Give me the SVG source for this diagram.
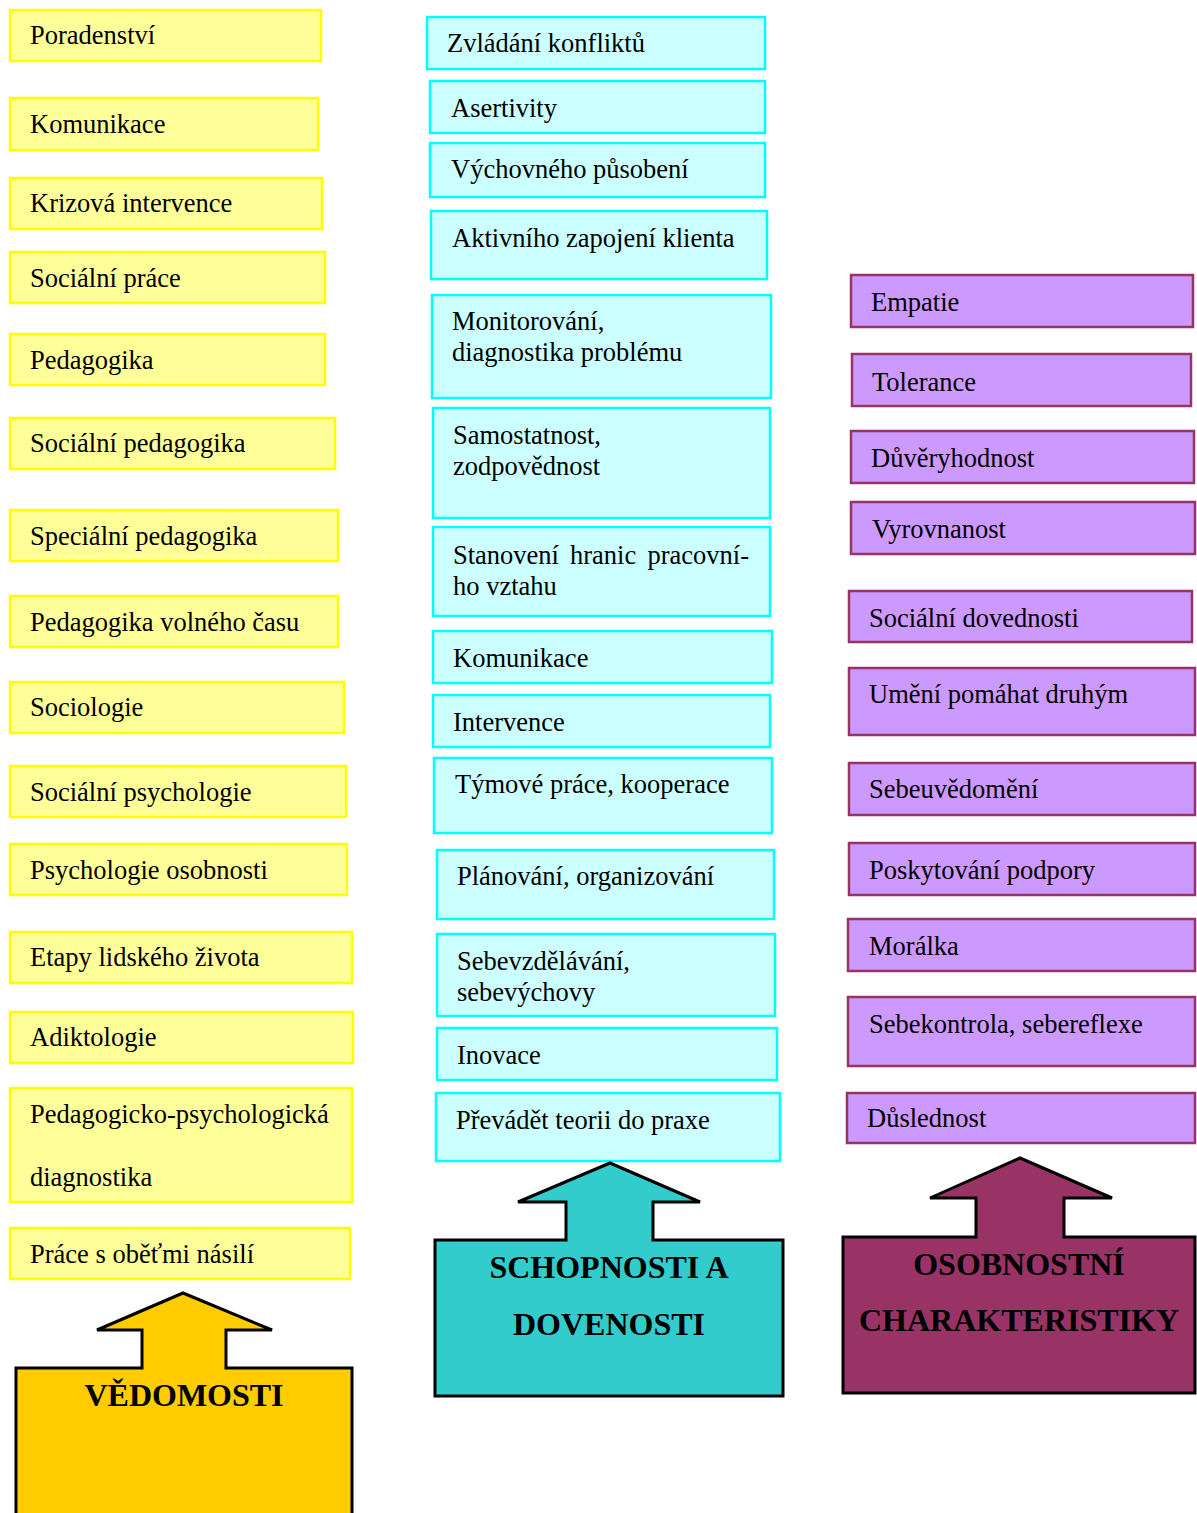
<svg xmlns="http://www.w3.org/2000/svg" width="1197" height="1513" viewBox="0 0 1197 1513">
  <style>
    text { font-family: "Liberation Serif", "Times New Roman", serif; font-size: 26.5px; fill: #000; }
    .k { fill: #FFFF99; stroke: #FFFF00; stroke-width: 2.5; }
    .s { fill: #CCFFFF; stroke: #00FFFF; stroke-width: 2.5; }
    .o { fill: #CC99FF; stroke: #993366; stroke-width: 2.5; }
    .arrow { stroke: #000; stroke-width: 3; stroke-linejoin: miter; }
    .title { font-weight: bold; font-size: 32px; text-anchor: middle; }
  </style>
  <rect width="1197" height="1513" fill="#fff"/>

  <!-- Knowledge column (yellow) -->
  <g id="knowledge">
    <g id="k1"><rect class="k" x="10" y="10" width="311" height="51"/><text x="30" y="44">Poradenství</text></g>
    <g id="k2"><rect class="k" x="10" y="98" width="308" height="52"/><text x="30" y="133">Komunikace</text></g>
    <g id="k3"><rect class="k" x="10" y="178" width="312" height="51"/><text x="30" y="212">Krizová intervence</text></g>
    <g id="k4"><rect class="k" x="10" y="252" width="315" height="51"/><text x="30" y="287">Sociální práce</text></g>
    <g id="k5"><rect class="k" x="10" y="334" width="315" height="51"/><text x="30" y="369">Pedagogika</text></g>
    <g id="k6"><rect class="k" x="10" y="418" width="325" height="51"/><text x="30" y="452">Sociální pedagogika</text></g>
    <g id="k7"><rect class="k" x="10" y="510" width="328" height="51"/><text x="30" y="545">Speciální pedagogika</text></g>
    <g id="k8"><rect class="k" x="10" y="596" width="328" height="51"/><text x="30" y="631">Pedagogika volného času</text></g>
    <g id="k9"><rect class="k" x="10" y="682" width="334" height="51"/><text x="30" y="716">Sociologie</text></g>
    <g id="k10"><rect class="k" x="10" y="766" width="336" height="51"/><text x="30" y="801">Sociální psychologie</text></g>
    <g id="k11"><rect class="k" x="10" y="844" width="337" height="51"/><text x="30" y="879">Psychologie osobnosti</text></g>
    <g id="k12"><rect class="k" x="10" y="932" width="342" height="51"/><text x="30" y="966">Etapy lidského života</text></g>
    <g id="k13"><rect class="k" x="10" y="1012" width="343" height="51"/><text x="30" y="1046">Adiktologie</text></g>
    <g id="k14"><rect class="k" x="10" y="1088" width="342" height="114"/><text x="30" y="1123">Pedagogicko-psychologická</text><text x="30" y="1186">diagnostika</text></g>
    <g id="k15"><rect class="k" x="10" y="1228" width="340" height="51"/><text x="30" y="1263">Práce s oběťmi násilí</text></g>
  </g>

  <!-- Skills column (cyan) -->
  <g id="skills">
    <g id="s1"><rect class="s" x="427" y="17" width="338" height="52"/><text x="447" y="52">Zvládání konfliktů</text></g>
    <g id="s2"><rect class="s" x="430" y="81" width="335" height="52"/><text x="451" y="117">Asertivity</text></g>
    <g id="s3"><rect class="s" x="430" y="143" width="335" height="54"/><text x="451" y="178">Výchovného působení</text></g>
    <g id="s4"><rect class="s" x="431" y="211" width="336" height="68"/><text x="452" y="247">Aktivního zapojení klienta</text></g>
    <g id="s5"><rect class="s" x="432" y="295" width="339" height="103"/><text x="452" y="330">Monitorování,</text><text x="452" y="361">diagnostika problému</text></g>
    <g id="s6"><rect class="s" x="433" y="408" width="337" height="110"/><text x="453" y="444">Samostatnost,</text><text x="453" y="475">zodpovědnost</text></g>
    <g id="s7"><rect class="s" x="433" y="527" width="337" height="89"/>
      <text x="453" y="564">Stanovení</text><text x="570" y="564">hranic</text><text x="749" y="564" text-anchor="end">pracovní-</text>
      <text x="453" y="595">ho vztahu</text></g>
    <g id="s8"><rect class="s" x="433" y="631" width="339" height="52"/><text x="453" y="667">Komunikace</text></g>
    <g id="s9"><rect class="s" x="433" y="695" width="337" height="52"/><text x="453" y="731">Intervence</text></g>
    <g id="s10"><rect class="s" x="434" y="758" width="338" height="75"/><text x="455" y="793">Týmové práce, kooperace</text></g>
    <g id="s11"><rect class="s" x="437" y="850" width="337" height="69"/><text x="457" y="885">Plánování, organizování</text></g>
    <g id="s12"><rect class="s" x="437" y="934" width="338" height="82"/><text x="457" y="970">Sebevzdělávání,</text><text x="457" y="1001">sebevýchovy</text></g>
    <g id="s13"><rect class="s" x="437" y="1028" width="340" height="52"/><text x="457" y="1064">Inovace</text></g>
    <g id="s14"><rect class="s" x="436" y="1093" width="344" height="68"/><text x="456" y="1129">Převádět teorii do praxe</text></g>
  </g>

  <!-- Personal traits column (violet) -->
  <g id="traits">
    <g id="o1"><rect class="o" x="851" y="275" width="342" height="52"/><text x="871" y="311">Empatie</text></g>
    <g id="o2"><rect class="o" x="852" y="354" width="339" height="52"/><text x="872" y="391">Tolerance</text></g>
    <g id="o3"><rect class="o" x="851" y="431" width="343" height="52"/><text x="871" y="467">Důvěryhodnost</text></g>
    <g id="o4"><rect class="o" x="851" y="502" width="344" height="52"/><text x="872" y="538">Vyrovnanost</text></g>
    <g id="o5"><rect class="o" x="849" y="591" width="343" height="51"/><text x="869" y="627">Sociální dovednosti</text></g>
    <g id="o6"><rect class="o" x="849" y="668" width="346" height="67"/><text x="869" y="703">Umění pomáhat druhým</text></g>
    <g id="o7"><rect class="o" x="849" y="763" width="346" height="52"/><text x="869" y="798">Sebeuvědomění</text></g>
    <g id="o8"><rect class="o" x="849" y="843" width="346" height="52"/><text x="869" y="879">Poskytování podpory</text></g>
    <g id="o9"><rect class="o" x="848" y="919" width="347" height="52"/><text x="869" y="955">Morálka</text></g>
    <g id="o10"><rect class="o" x="848" y="997" width="347" height="69"/><text x="869" y="1033">Sebekontrola, sebereflexe</text></g>
    <g id="o11"><rect class="o" x="847" y="1093" width="348" height="50"/><text x="867" y="1127">Důslednost</text></g>
  </g>

  <!-- Category blocks with upward arrows -->
  <g id="arrows">
    <g id="vedomosti">
      <polygon class="arrow" fill="#FFCC00" points="183,1293 272,1330 226,1330 226,1368 352,1368 352,1520 16,1520 16,1368 142,1368 142,1330 97,1330"/>
      <text class="title" x="184" y="1406">VĚDOMOSTI</text>
    </g>
    <g id="schopnosti">
      <polygon class="arrow" fill="#33CCCC" points="610,1163 700,1202 653,1202 653,1240 783,1240 783,1396 435,1396 435,1240 566,1240 566,1202 518,1202"/>
      <text class="title" x="609" y="1278">SCHOPNOSTI A</text>
      <text class="title" x="609" y="1335">DOVENOSTI</text>
    </g>
    <g id="osobnostni">
      <polygon class="arrow" fill="#993366" points="1020,1158 1112,1198 1064,1198 1064,1237 1195,1237 1195,1393 843,1393 843,1237 976,1237 976,1198 930,1198"/>
      <text class="title" x="1019" y="1275">OSOBNOSTNÍ</text>
      <text class="title" x="1019" y="1331">CHARAKTERISTIKY</text>
    </g>
  </g>
</svg>
